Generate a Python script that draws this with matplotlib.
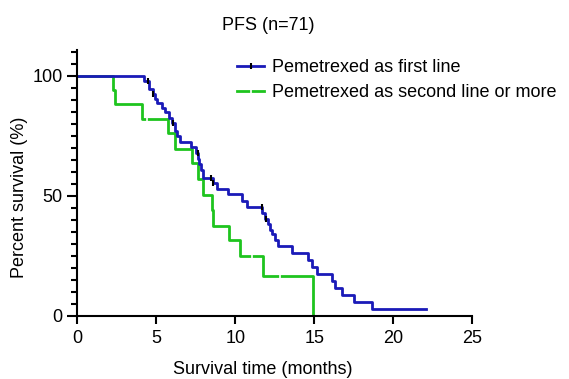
import matplotlib
matplotlib.use('Agg')
from matplotlib import pyplot as plt
from matplotlib.lines import Line2D
from matplotlib.ticker import MultipleLocator

plt.rcParams['font.family'] = ['Liberation Sans', 'DejaVu Sans']

# Kaplan-Meier steps (months, % surviving)
first_time = [0, 4.22, 4.56, 4.81, 4.92, 5.06, 5.34, 5.55, 5.82, 5.97, 6.18, 6.29, 6.5,
              7.18, 7.51, 7.64, 7.72, 7.8, 7.94, 8.61, 8.82, 9.56, 10.41, 10.76, 11.67,
              11.88, 12.07, 12.2, 12.3, 12.53, 12.72, 13.57, 14.62, 14.87, 15.15, 16.14,
              16.3, 16.73, 17.51, 18.63, 22.05]
first_surv = [100, 98.1, 94.4, 92.5, 90.6, 88.7, 86.8, 84.9, 82.6, 80.3, 77.0, 74.8, 72.5,
              70.3, 68.0, 65.6, 63.2, 60.8, 57.6, 55.3, 53.0, 50.7, 47.9, 45.5, 43.1,
              40.6, 38.2, 35.8, 34.0, 31.7, 29.2, 26.3, 23.4, 20.5, 17.6, 14.5,
              11.6, 8.8, 5.9, 2.9, 2.9]
first_cens_t = [4.48, 4.78, 6.05, 7.62, 8.45, 8.58, 11.67, 11.95]
first_cens_s = [98.1, 92.5, 80.3, 68.0, 57.6, 55.3, 45.5, 40.6]

second_time = [0, 2.24, 2.39, 4.08, 5.74, 6.18, 7.24, 7.66, 7.94, 8.51, 8.57, 9.62,
               10.3, 11.77, 14.94]
second_surv = [100, 94.1, 88.2, 82.2, 76.2, 69.6, 63.6, 57.0, 50.4, 44.2, 37.5, 31.7,
               25.0, 16.7, 0]
second_cens_t = [4.39, 11.04, 12.83]
second_cens_s = [82.2, 25.0, 16.7]

blue = '#1a1ab8'
green = '#1ec41e'

fig = plt.figure(figsize=(5.69, 3.79), dpi=100)
ax = fig.add_axes([77.3 / 569, 63 / 379, 395 / 569, 266.4 / 379])

ax.step(second_time, second_surv, where='post', color=green, lw=2.0)
ax.plot(second_cens_t, second_cens_s, '|', color='white', ms=3, mew=1.2)
ax.step(first_time, first_surv, where='post', color=blue, lw=2.0)
ax.plot(first_cens_t, first_cens_s, '|', color='black', ms=5, mew=1.5)

ax.set_xlim(0, 25)
ax.set_ylim(0, 111)
ax.set_xticks([0, 5, 10, 15, 20, 25])
ax.set_yticks([0, 50, 100])
ax.yaxis.set_minor_locator(MultipleLocator(5))
ax.tick_params(axis='x', length=6, width=1.5, pad=4, labelsize=13)
ax.tick_params(axis='y', which='major', length=7.5, width=1.5, pad=3, labelsize=13)
ax.tick_params(axis='y', which='minor', length=4.5, width=1.5)
for side in ['top', 'right']:
    ax.spines[side].set_visible(False)
for side in ['left', 'bottom']:
    ax.spines[side].set_linewidth(1.5)

fig.text(268 / 569, 1 - 25 / 379, 'PFS (n=71)', ha='center', va='center', fontsize=13)
fig.text(263 / 569, 1 - 370 / 379, 'Survival time (months)', ha='center', va='center', fontsize=13)
fig.text(20 / 569, 1 - 197 / 379, 'Percent survival (%)', ha='center', va='center',
         rotation=90, fontsize=13)

h1 = (Line2D([], [], color=blue, lw=2.0), Line2D([], [], color='black', marker='|', ls='', ms=5, mew=1.5))
h2 = (Line2D([], [], color=green, lw=2.0), Line2D([], [], color='white', marker='|', ls='', ms=3, mew=1.2))
fig.legend([h1, h2], ['Pemetrexed as first line', 'Pemetrexed as second line or more'],
           loc='upper left', bbox_to_anchor=(236.7 / 569, 1 - 59 / 379), frameon=False,
           fontsize=13, borderpad=0, borderaxespad=0, handlelength=1.53, handletextpad=0.41,
           labelspacing=0.45, numpoints=1)

plt.savefig('out.png', dpi=100)
